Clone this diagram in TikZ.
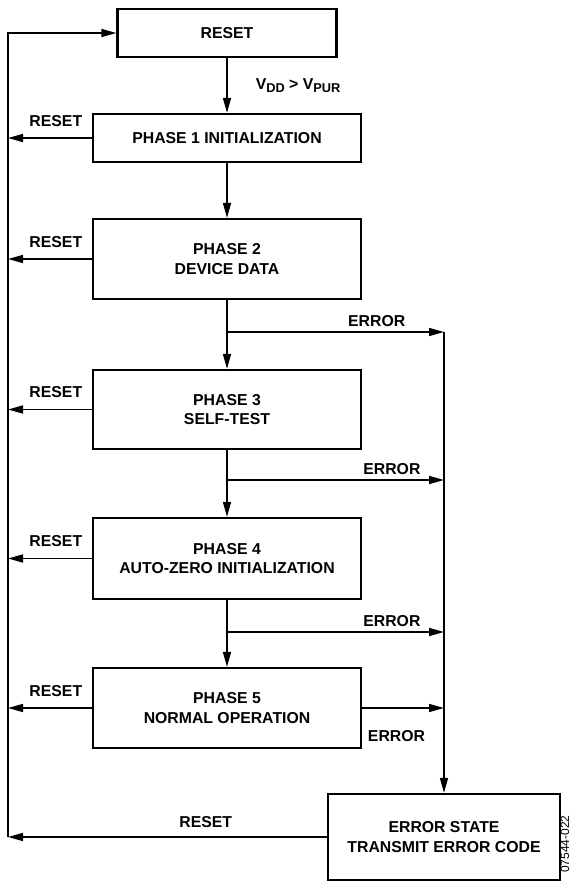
\documentclass[tikz,border=0pt]{standalone}
\usepackage{fontspec}
\setmainfont{Liberation Sans}
\usetikzlibrary{arrows.meta, calc, positioning}
\newcommand{\lowsub}[1]{\raisebox{-0.35ex}{\fontsize{12.8}{14}\selectfont #1}}

\begin{document}
\begin{tikzpicture}[x=1pt, y=-1pt,
  every node/.style={font=\fontsize{15.8}{19.5}\selectfont\bfseries, align=center},
  box/.style={draw, line width=2.2pt, minimum width=268pt, inner sep=0pt},
  arr/.style={line width=1.6pt, -{Triangle[length=15pt, width=8pt]}},
  lbl/.style={inner sep=0pt}]
  \useasboundingbox (0,0) rectangle (571,888);

  \node[box, minimum width=219pt, minimum height=48pt] (reset) at (227,33) {RESET};
  \node[box, minimum height=48pt] (p1) at (227,138) {PHASE 1 INITIALIZATION};
  \node[box, minimum height=80pt] (p2) at (227,259) {PHASE 2\\DEVICE DATA};
  \node[box, minimum height=79pt] (p3) at (227,409.5) {PHASE 3\\SELF-TEST};
  \node[box, minimum height=81pt] (p4) at (227,558.5) {PHASE 4\\AUTO-ZERO INITIALIZATION};
  \node[box, minimum height=80pt] (p5) at (227,708) {PHASE 5\\NORMAL OPERATION};
  \node[box, minimum width=232pt, minimum height=86pt] (err) at (444,837) {ERROR STATE\\TRANSMIT ERROR CODE};
  \node[font=\fontsize{12}{14}\selectfont, rotate=90] (figno) at (565,844) {07544-022};

  \coordinate (lrail) at (8,33);
  \coordinate (b2) at (227,332);
  \coordinate (b3) at (227,480);
  \coordinate (b4) at (227,632);
  \coordinate (rtop) at (444,332);

  \draw[arr] (reset) -- (p1) node[lbl, midway, right=28pt] {V\lowsub{DD} > V\lowsub{PUR}};
  \draw[arr] (p1) -- (p2);
  \draw[arr] (p2) -- (p3);
  \draw[arr] (p3) -- (p4);
  \draw[arr] (p4) -- (p5);

  \draw[arr] (b2) -- (b2 -| rtop) node[lbl, pos=0.69, above=5pt] {ERROR};
  \draw[arr] (b3) -- (b3 -| rtop) node[lbl, pos=0.76, above=5pt] {ERROR};
  \draw[arr] (b4) -- (b4 -| rtop) node[lbl, pos=0.76, above=5pt] {ERROR};
  \draw[arr] (p5.east) -- (p5.east -| rtop) node[lbl, pos=0.42, below=22pt] {ERROR};
  \draw[arr] (rtop) -- (err.north);

  \foreach \p in {p1,p2,p3,p4,p5}
    \draw[arr] (\p.west) -- (\p.west -| lrail) node[lbl, pos=0.43, above=11pt] {RESET};
  \draw[arr] (err.west) -- (err.west -| lrail) node[lbl, pos=0.38, above=8.5pt] {RESET};
  \draw[arr] (err.west -| lrail) -- (lrail) -- (reset.west);
\end{tikzpicture}
\end{document}
